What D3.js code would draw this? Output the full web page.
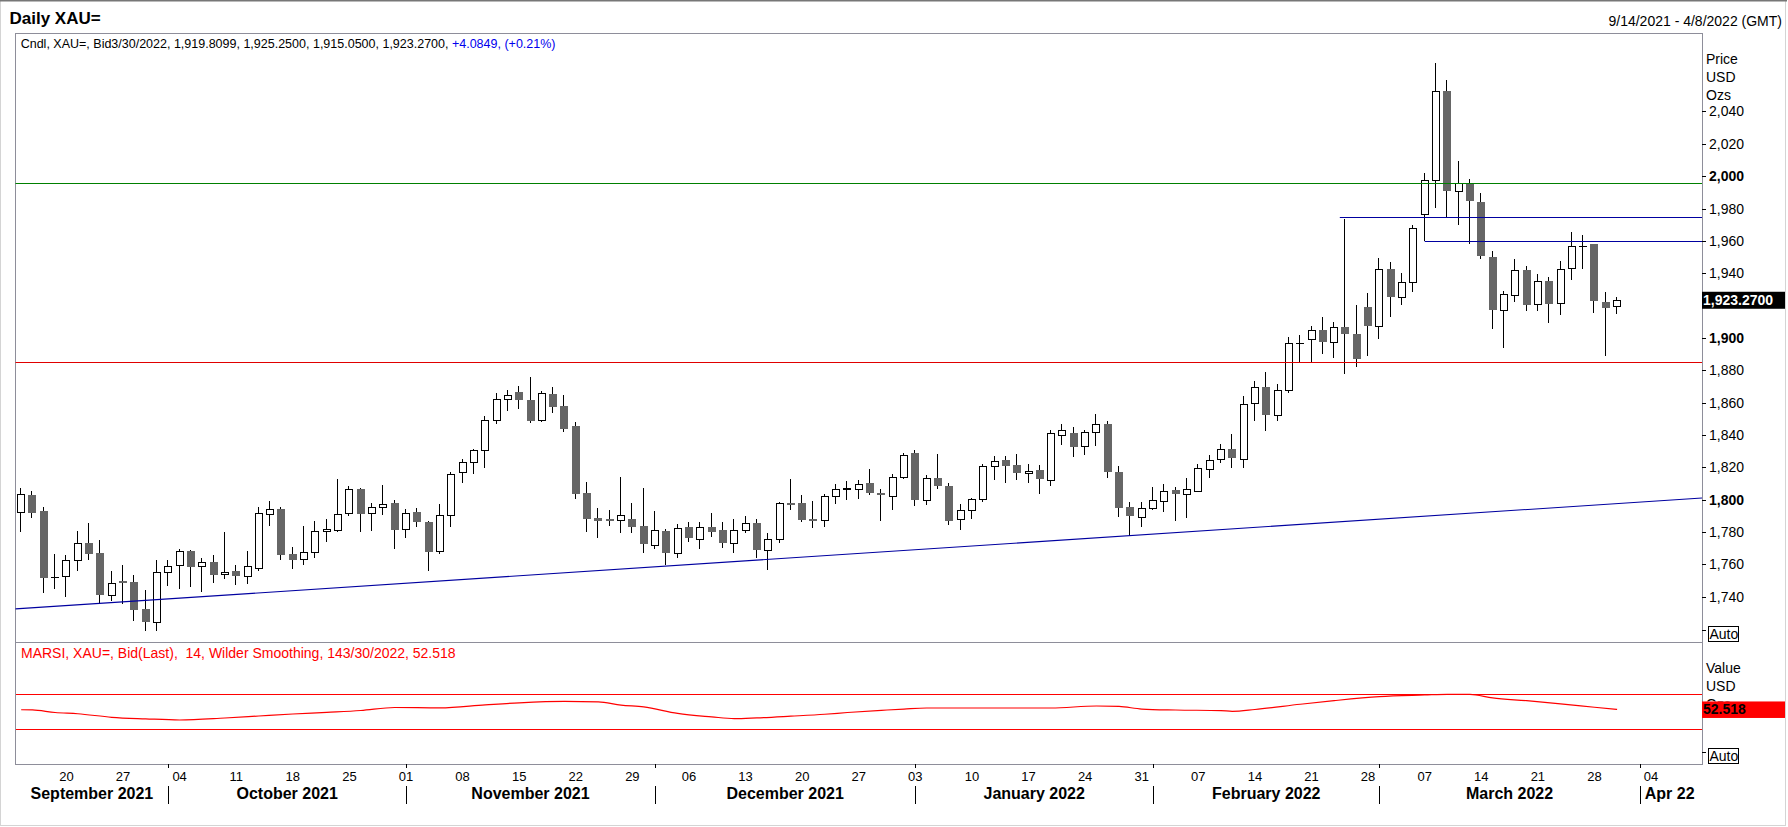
<!DOCTYPE html>
<html>
<head>
<meta charset="utf-8">
<script src="https://cdn.jsdelivr.net/npm/d3@7"></script>
<style>
  html, body { margin: 0; padding: 0; background: #fff; }
  svg { display: block; font-family: Arial, "Liberation Sans", sans-serif; }
</style>
</head>
<body>
<div id="chart"></div>
<script>
// daily bars: [day, open, high, low, close]
const sep21 = [
  [14,1792.3,1807.1,1779.7,1803.4],[15,1802.8,1805.5,1788.4,1791.5],[16,1793.1,1795.6,1742.5,1751.8],
  [17,1751.9,1766.3,1745.0,1752.4],[20,1752.7,1765.7,1740.1,1762.6],[21,1762.6,1780.5,1755.6,1773.1],
  [22,1773.3,1785.5,1763.0,1766.1],[23,1767.1,1775.0,1735.8,1740.9],[24,1741.1,1756.0,1737.2,1748.3],
  [27,1749.8,1759.5,1735.3,1748.3],[28,1749.2,1753.5,1724.8,1732.0],[29,1732.5,1744.4,1719.0,1724.6],
  [30,1724.6,1762.6,1719.0,1755.1]
];
const oct21 = [
  [1,1755.1,1762.6,1746.7,1758.9],[4,1759.9,1769.8,1745.0,1768.1],[5,1768.3,1769.0,1746.0,1758.6],
  [6,1758.9,1763.8,1743.2,1761.3],[7,1761.5,1765.9,1748.7,1753.7],[8,1753.9,1780.1,1750.8,1755.4],
  [11,1756.0,1759.5,1747.5,1752.5],[12,1752.7,1768.4,1748.1,1758.9],[13,1758.0,1795.2,1755.6,1791.7],
  [14,1791.0,1799.3,1783.8,1794.1],[15,1794.4,1795.6,1762.6,1765.5],[18,1766.3,1770.8,1757.4,1763.0],
  [19,1763.2,1783.8,1759.9,1767.7],[20,1767.5,1786.9,1764.2,1780.7],[21,1780.5,1787.9,1774.1,1781.7],
  [22,1781.1,1812.7,1780.3,1791.0],[25,1791.6,1808.6,1789.6,1806.5],[26,1806.5,1807.1,1779.7,1791.4],
  [27,1791.6,1797.8,1780.9,1795.4],[28,1795.4,1809.2,1790.8,1797.2],[29,1798.0,1799.7,1769.8,1781.5]
];
const nov21 = [
  [1,1781.7,1794.1,1776.6,1791.6],[2,1792.5,1795.0,1783.4,1785.9],[3,1786.3,1786.9,1756.2,1767.9],
  [4,1768.1,1797.4,1766.7,1790.4],[5,1790.4,1817.2,1783.4,1815.8],[8,1817.0,1825.1,1810.0,1823.2],
  [9,1823.2,1831.5,1815.8,1830.6],[10,1830.6,1852.0,1819.3,1849.0],[11,1849.0,1866.0,1847.0,1862.0],
  [12,1862.0,1868.0,1855.0,1865.0],[15,1866.7,1870.0,1856.0,1861.6],[16,1861.8,1876.0,1847.1,1848.8],
  [17,1849.2,1867.4,1847.8,1865.9],[18,1865.3,1869.8,1853.5,1857.0],[19,1858.1,1864.9,1841.6,1843.4],
  [22,1845.7,1848.2,1800.1,1803.8],[23,1804.0,1811.0,1779.7,1788.3],[24,1788.8,1794.9,1776.6,1787.1],
  [25,1788.1,1793.7,1783.8,1787.1],[26,1787.3,1814.1,1779.1,1790.4],[29,1788.1,1798.0,1779.1,1783.4],
  [30,1783.8,1807.3,1767.3,1772.3]
];
const dec21 = [
  [1,1771.8,1793.1,1769.8,1781.1],[2,1780.7,1781.7,1759.9,1767.3],[3,1766.9,1785.0,1764.0,1782.6],
  [6,1783.2,1786.1,1773.9,1776.6],[7,1775.5,1786.3,1769.8,1783.0],[8,1783.2,1791.9,1777.0,1780.3],
  [9,1781.3,1786.3,1770.4,1772.9],[10,1772.9,1788.1,1767.3,1781.1],[13,1781.1,1790.0,1779.1,1785.5],
  [14,1785.7,1788.1,1763.8,1768.8],[15,1768.8,1779.5,1756.4,1775.5],[16,1775.6,1798.5,1773.5,1797.8],
  [17,1798.0,1812.7,1793.3,1796.6],[20,1797.8,1803.0,1785.9,1787.7],[21,1787.9,1799.0,1782.2,1787.1],
  [22,1787.3,1803.8,1783.4,1802.2],[23,1802.2,1809.8,1797.2,1806.3],[24,1806.3,1811.5,1799.5,1807.1],
  [27,1806.5,1812.3,1800.7,1809.6],[28,1810.2,1819.1,1802.6,1804.0],[29,1804.2,1806.5,1786.9,1802.8],
  [30,1802.2,1815.8,1793.3,1813.9],[31,1813.9,1829.0,1812.5,1827.5]
];
const jan22 = [
  [3,1828.8,1830.6,1795.8,1799.5],[4,1799.5,1815.4,1796.4,1813.3],[5,1813.3,1828.2,1806.3,1808.2],
  [6,1808.4,1810.2,1784.2,1787.1],[7,1787.9,1797.2,1781.1,1793.9],[10,1793.9,1800.9,1788.3,1800.3],
  [11,1800.1,1822.0,1798.3,1820.7],[12,1820.7,1827.1,1811.9,1824.2],[13,1824.5,1827.1,1810.0,1820.5],
  [14,1821.6,1828.2,1811.9,1816.2],[17,1816.4,1822.0,1810.6,1817.6],[18,1818.5,1821.6,1803.8,1812.5],
  [19,1812.1,1843.0,1808.2,1841.0],[20,1840.0,1847.0,1834.0,1843.0],[21,1841.0,1845.0,1826.5,1832.3],
  [24,1833.1,1843.2,1827.3,1841.8],[25,1841.8,1852.9,1833.1,1846.7],[26,1846.7,1848.8,1813.1,1816.8],
  [27,1817.2,1820.9,1789.0,1795.1],[28,1795.3,1798.5,1777.4,1789.6],[31,1789.2,1798.5,1782.8,1795.1]
];
const feb22 = [
  [1,1794.7,1807.7,1793.5,1799.7],[2,1799.1,1809.6,1792.1,1805.5],[3,1806.1,1807.7,1786.5,1803.2],
  [4,1803.4,1813.3,1788.4,1806.5],[7,1805.3,1822.0,1805.3,1819.5],[8,1818.9,1827.8,1813.1,1824.5],
  [9,1825.1,1834.4,1822.4,1831.1],[10,1831.3,1840.8,1819.3,1825.5],[11,1825.1,1864.1,1819.3,1859.1],
  [14,1859.7,1873.5,1848.4,1869.6],[15,1869.8,1879.1,1842.2,1852.1],[16,1852.3,1871.7,1848.4,1867.8],
  [17,1867.5,1900.8,1865.7,1896.8],[18,1896.6,1902.0,1884.3,1896.9],[21,1899.3,1907.4,1885.1,1904.9],
  [22,1905.1,1913.1,1889.8,1897.3],[23,1897.5,1910.0,1887.4,1906.8],[24,1907.0,1973.6,1877.4,1902.2],
  [25,1902.6,1920.4,1881.8,1886.7],[28,1919.3,1927.8,1888.6,1907.2]
];
const mar22 = [
  [1,1907.2,1949.4,1899.1,1942.6],[2,1942.8,1947.0,1912.7,1925.1],[3,1925.3,1940.2,1920.2,1934.6],
  [4,1934.6,1970.1,1928.2,1968.0],[7,1976.3,2002.0,1960.2,1997.7],[8,1997.7,2070.1,1980.2,2052.4],
  [9,2052.4,2059.2,1975.0,1990.7],[10,1990.9,2009.1,1969.7,1995.6],[11,1995.6,1998.5,1957.9,1984.5],
  [14,1984.3,1989.3,1948.6,1950.5],[15,1950.3,1954.0,1905.3,1917.1],[16,1917.3,1929.2,1893.5,1927.2],
  [17,1926.5,1949.0,1922.0,1942.0],[18,1942.2,1944.7,1916.4,1920.1],[21,1921.0,1939.8,1916.4,1935.2],
  [22,1935.4,1937.9,1909.0,1920.8],[23,1921.4,1947.8,1914.0,1942.6],[24,1943.2,1965.7,1935.8,1956.9],
  [25,1956.8,1963.9,1942.4,1957.0],[28,1958.3,1958.3,1915.2,1922.6],[29,1922.2,1928.6,1888.6,1918.3],
  [30,1919.81,1925.25,1915.05,1923.27]
];

// RSI (MARSI 14) readings
const rsiDates = ["2021-09-14","2021-09-15","2021-09-17","2021-09-21","2021-09-24","2021-09-29","2021-10-04",
  "2021-10-08","2021-10-13","2021-10-18","2021-10-21","2021-10-26","2021-10-29","2021-11-04","2021-11-10",
  "2021-11-15","2021-11-19","2021-11-24","2021-11-26","2021-11-30","2021-12-03","2021-12-08","2021-12-10",
  "2021-12-14","2021-12-17","2021-12-22","2021-12-24","2021-12-29","2021-12-31","2022-01-04","2022-01-19",
  "2022-01-25","2022-01-27","2022-01-31","2022-02-03","2022-02-09","2022-02-10","2022-02-14","2022-02-18",
  "2022-02-23","2022-03-01","2022-03-07","2022-03-09","2022-03-11","2022-03-15","2022-03-18","2022-03-23",
  "2022-03-28","2022-03-30"];
const rsiValues = [52.2,52.0,49.0,47.6,43.5,41.7,40.4,
  42.7,45.0,47.3,49.2,51.3,54.8,54.3,57.8,
  60.2,61.9,61.2,57.5,55.5,48.0,44.0,41.9,
  42.8,44.8,47.0,49.0,51.5,53.0,54.2,54.2,
  56.5,56.0,53.0,51.9,51.2,50.4,52.5,58.5,
  62.7,67.3,69.2,70.0,70.0,65.8,62.6,59.0,
  55.1,52.518];
const rsiBands = [70, 30];

// drawn studies
const supportLevel = 1885.1;
const resistanceLevel = 1995.9;
const shortLevels = [["2022-02-24", 1974.8], ["2022-03-07", 1960.1]];
const trendPoints = [["2021-09-14", 1732.7], ["2022-04-08", 1800.8]];
const lastClose = 1923.27;

const priceTicks = [1740,1760,1780,1800,1820,1840,1860,1880,1900,1920,1940,1960,1980,2000,2020,2040];
const dayTicks = ["2021-09-20","2021-09-27","2021-10-04","2021-10-11","2021-10-18","2021-10-25","2021-11-01",
  "2021-11-08","2021-11-15","2021-11-22","2021-11-29","2021-12-06","2021-12-13","2021-12-20","2021-12-27",
  "2022-01-03","2022-01-10","2022-01-17","2022-01-24","2022-01-31","2022-02-07","2022-02-14","2022-02-21",
  "2022-02-28","2022-03-07","2022-03-14","2022-03-21","2022-03-28","2022-04-04"];
const monthNames = ["September 2021","October 2021","November 2021","December 2021","January 2022",
  "February 2022","March 2022","Apr 22"];
const monthStarts = ["2021-09-14","2021-10-01","2021-11-01","2021-12-01","2022-01-03","2022-02-01",
  "2022-03-01","2022-04-01"];

const months = [["2021-09", sep21], ["2021-10", oct21], ["2021-11", nov21], ["2021-12", dec21],
  ["2022-01", jan22], ["2022-02", feb22], ["2022-03", mar22]];

const candles = months.flatMap(([ym, rows]) => rows.map(([d, o, h, l, c]) => ({
  date: `${ym}-${String(d).padStart(2, "0")}`, open: o, high: h, low: l, close: c
})));
const rsi = rsiDates.map((d, i) => ({ date: d, value: rsiValues[i] }));

const width = 1788;
const height = 827;
const plot = { left: 15.5, right: 1702, top: 33, priceBottom: 642, rsiBottom: 764 };
const borderColor = "#8e8e9a";

const parse = d3.timeParse("%Y-%m-%d");
const fmt = d3.timeFormat("%Y-%m-%d");
// trading calendar (weekdays) for the displayed range 9/14/2021 - 4/8/2022
const calendar = d3.timeDay.range(parse("2021-09-14"), parse("2022-04-09"))
  .filter(d => d.getDay() > 0 && d.getDay() < 6)
  .map(fmt);

const x = d3.scalePoint().domain(calendar).range([plot.left, plot.right]).padding(0.5);
const step = x.step();
const y = d3.scaleLinear().domain([1712, 2088.5]).range([plot.priceBottom, plot.top]);
const rsiY = d3.scaleLinear().domain([30, 70]).range([729, 694.3]);

const svg = d3.select("#chart").append("svg")
  .attr("width", width).attr("height", height)
  .attr("viewBox", `0 0 ${width} ${height}`);

svg.append("rect").attr("width", width).attr("height", height).attr("fill", "#fff");
svg.append("rect").attr("x", 0.5).attr("y", 0.5).attr("width", 1785).attr("height", 825)
  .attr("fill", "none").attr("stroke", "#d4d4d4");
svg.append("line").attr("x1", 0).attr("x2", 1787).attr("y1", 0.75).attr("y2", 0.75)
  .attr("stroke", "#777").attr("stroke-width", 1.5);

// header
svg.append("text").attr("x", 9.5).attr("y", 23.5)
  .attr("font-size", 17).attr("font-weight", "bold").text("Daily XAU=");
svg.append("text").attr("x", 1782).attr("y", 25.5).attr("text-anchor", "end")
  .attr("font-size", 14).text("9/14/2021 - 4/8/2022 (GMT)");

// panel frames
const frame = svg.append("g").attr("stroke", borderColor).attr("fill", "none").attr("shape-rendering", "crispEdges");
frame.append("rect").attr("x", plot.left).attr("y", plot.top)
  .attr("width", plot.right - plot.left).attr("height", plot.rsiBottom - plot.top);
frame.append("line").attr("x1", plot.left).attr("x2", plot.right)
  .attr("y1", plot.priceBottom + 0.5).attr("y2", plot.priceBottom + 0.5);

// legend
const legend = svg.append("text").attr("x", 20.7).attr("y", 47.5).attr("font-size", 12.5);
legend.append("tspan").text("Cndl, XAU=, Bid3/30/2022, 1,919.8099, 1,925.2500, 1,915.0500, 1,923.2700, ");
legend.append("tspan").attr("fill", "#0000ee").text("+4.0849, (+0.21%)");

// candles
const cg = svg.append("g").attr("shape-rendering", "crispEdges");
const left = d => Math.round(x(d.date) - 4);

cg.selectAll("line.wick").data(candles).join("line")
  .attr("class", "wick")
  .attr("x1", d => left(d) + 3.5).attr("x2", d => left(d) + 3.5)
  .attr("y1", d => Math.round(y(d.high))).attr("y2", d => Math.round(y(d.low)))
  .attr("stroke", "#000");

const up = candles.filter(d => d.close >= d.open);
const down = candles.filter(d => d.close < d.open);

cg.selectAll("rect.down").data(down).join("rect")
  .attr("class", "down")
  .attr("x", d => left(d)).attr("width", 8)
  .attr("y", d => Math.round(y(d.open)))
  .attr("height", d => Math.max(1, Math.round(y(d.close)) - Math.round(y(d.open))))
  .attr("fill", "#666");

cg.selectAll("rect.up").data(up.filter(d => Math.round(y(d.open)) - Math.round(y(d.close)) >= 1)).join("rect")
  .attr("class", "up")
  .attr("x", d => left(d) + 0.5).attr("width", 7)
  .attr("y", d => Math.round(y(d.close)) + 0.5)
  .attr("height", d => Math.round(y(d.open)) - Math.round(y(d.close)))
  .attr("fill", "#fff").attr("stroke", "#000");

cg.selectAll("line.doji").data(up.filter(d => Math.round(y(d.open)) - Math.round(y(d.close)) < 1)).join("line")
  .attr("class", "doji")
  .attr("x1", d => left(d)).attr("x2", d => left(d) + 8)
  .attr("y1", d => Math.round(y(d.close)) + 0.5).attr("y2", d => Math.round(y(d.close)) + 0.5)
  .attr("stroke", "#000").attr("stroke-width", 1.5);

// study lines drawn over the bars
const lines = svg.append("g").attr("fill", "none");
const hy = v => Math.round(y(v)) + 0.5;
lines.append("line").attr("x1", plot.left).attr("x2", plot.right)
  .attr("y1", hy(resistanceLevel)).attr("y2", hy(resistanceLevel)).attr("stroke", "#008000");
lines.append("line").attr("x1", plot.left).attr("x2", plot.right)
  .attr("y1", hy(supportLevel)).attr("y2", hy(supportLevel)).attr("stroke", "#e00000");
lines.selectAll("line.lvl").data(shortLevels).join("line")
  .attr("class", "lvl")
  .attr("x1", d => x(d[0]) - (d[0] === "2022-02-24" ? step / 2 : 0)).attr("x2", plot.right)
  .attr("y1", d => hy(d[1])).attr("y2", d => hy(d[1]))
  .attr("stroke", "#0000a0");

const [t0, t1] = trendPoints;
const slope = (y(t1[1]) - y(t0[1])) / (x(t1[0]) - x(t0[0]));
lines.append("line")
  .attr("x1", plot.left).attr("y1", y(t0[1]) + slope * (plot.left - x(t0[0])))
  .attr("x2", plot.right).attr("y2", y(t0[1]) + slope * (plot.right - x(t0[0])))
  .attr("stroke", "#0000a0").attr("stroke-width", 1.1);

// price axis (the label under the last-price tag is hidden, as in the terminal)
const visibleTicks = priceTicks.filter(d => Math.abs(y(d) - y(lastClose)) > 10);
const axisG = svg.append("g").attr("font-size", 14);
axisG.selectAll("line.tk").data(priceTicks).join("line")
  .attr("class", "tk")
  .attr("x1", plot.right).attr("x2", plot.right + 4)
  .attr("y1", d => hy(d)).attr("y2", d => hy(d))
  .attr("stroke", "#000").attr("shape-rendering", "crispEdges");
axisG.selectAll("text.tl").data(visibleTicks).join("text")
  .attr("class", "tl")
  .attr("x", plot.right + 7).attr("y", d => y(d) + 5)
  .attr("font-weight", d => d % 100 === 0 ? "bold" : "normal")
  .text(d => d3.format(",")(d));

["Price", "USD", "Ozs"].forEach((t, i) => {
  axisG.append("text").attr("x", 1706).attr("y", 63.5 + i * 18).text(t);
});

// last price tag
svg.append("rect").attr("x", plot.right).attr("y", y(lastClose) - 8.5)
  .attr("width", 83).attr("height", 17).attr("fill", "#000");
svg.append("text").attr("x", plot.right + 1).attr("y", y(lastClose) + 5)
  .attr("font-size", 14).attr("font-weight", "bold").attr("fill", "#fff")
  .text(d3.format(",.4f")(lastClose));

function autoBox(cy) {
  svg.append("line").attr("x1", plot.right).attr("x2", plot.right + 4)
    .attr("y1", Math.round(cy) - 3.5).attr("y2", Math.round(cy) - 3.5)
    .attr("stroke", "#000").attr("shape-rendering", "crispEdges");
  svg.append("rect").attr("x", 1708.5).attr("y", Math.round(cy) - 7.5)
    .attr("width", 30).attr("height", 14.5)
    .attr("fill", "#fff").attr("stroke", "#000").attr("shape-rendering", "crispEdges");
  svg.append("text").attr("x", 1709.5).attr("y", cy + 5).attr("font-size", 14).text("Auto");
}
autoBox(634);

// RSI panel
svg.append("text").attr("x", 21).attr("y", 657.7).attr("font-size", 14).attr("fill", "#ff0000")
  .style("white-space", "pre")
  .text("MARSI, XAU=, Bid(Last),  14, Wilder Smoothing, 143/30/2022, 52.518");

svg.append("g").selectAll("line").data(rsiBands).join("line")
  .attr("x1", plot.left).attr("x2", plot.right)
  .attr("y1", d => Math.round(rsiY(d)) + 0.5).attr("y2", d => Math.round(rsiY(d)) + 0.5)
  .attr("stroke", "#ff0000").attr("shape-rendering", "crispEdges");

svg.append("path").datum(rsi)
  .attr("fill", "none").attr("stroke", "#ff0000").attr("stroke-width", 1.2)
  .attr("d", d3.line().x(d => x(d.date)).y(d => rsiY(d.value)).curve(d3.curveMonotoneX));

const lastRsi = rsiValues[rsiValues.length - 1];
const tagTop = rsiY(lastRsi) - 8;

// third unit line mostly sits behind the value tag: only its top shows
svg.append("clipPath").attr("id", "unitClip")
  .append("rect").attr("x", 1700).attr("y", 640).attr("width", 88).attr("height", tagTop - 640);
["Value", "USD"].forEach((t, i) => {
  svg.append("text").attr("x", 1706).attr("y", 673 + i * 18).attr("font-size", 14).text(t);
});
svg.append("g").attr("clip-path", "url(#unitClip)")
  .append("text").attr("x", 1706).attr("y", 709).attr("font-size", 14).text("Ozs");

svg.append("rect").attr("x", plot.right).attr("y", tagTop)
  .attr("width", 83).attr("height", 16.5).attr("fill", "#ff0000");
svg.append("text").attr("x", plot.right + 1).attr("y", rsiY(lastRsi) + 5)
  .attr("font-size", 14).attr("font-weight", "bold").attr("fill", "#000")
  .text(d3.format(".3f")(lastRsi));
autoBox(756);

// date axis
const dg = svg.append("g");
dg.selectAll("text.day").data(dayTicks).join("text")
  .attr("class", "day")
  .attr("x", d => x(d)).attr("y", 781).attr("text-anchor", "middle").attr("font-size", 13)
  .text(d => d.slice(8));

const sepX = monthStarts.map((d, i) => i === 0 ? plot.left : x(d));
dg.selectAll("line.sep").data(monthStarts.slice(1)).join("line")
  .attr("class", "sep")
  .attr("x1", d => Math.round(x(d)) + 0.5).attr("x2", d => Math.round(x(d)) + 0.5)
  .attr("y1", 786).attr("y2", 804)
  .attr("stroke", "#000").attr("shape-rendering", "crispEdges");
dg.selectAll("line.mtk").data(monthStarts.slice(1)).join("line")
  .attr("class", "mtk")
  .attr("x1", d => Math.round(x(d)) + 0.5).attr("x2", d => Math.round(x(d)) + 0.5)
  .attr("y1", plot.rsiBottom).attr("y2", plot.rsiBottom + 4)
  .attr("stroke", "#000").attr("shape-rendering", "crispEdges");

dg.selectAll("text.month").data(monthNames).join("text")
  .attr("class", "month")
  .attr("x", (d, i) => i < monthNames.length - 1 ? (sepX[i] + sepX[i + 1]) / 2 : sepX[i] + 5)
  .attr("text-anchor", (d, i) => i < monthNames.length - 1 ? "middle" : "start")
  .attr("y", 799).attr("font-size", 16).attr("font-weight", "bold")
  .text(d => d);
</script>
</body>
</html>
